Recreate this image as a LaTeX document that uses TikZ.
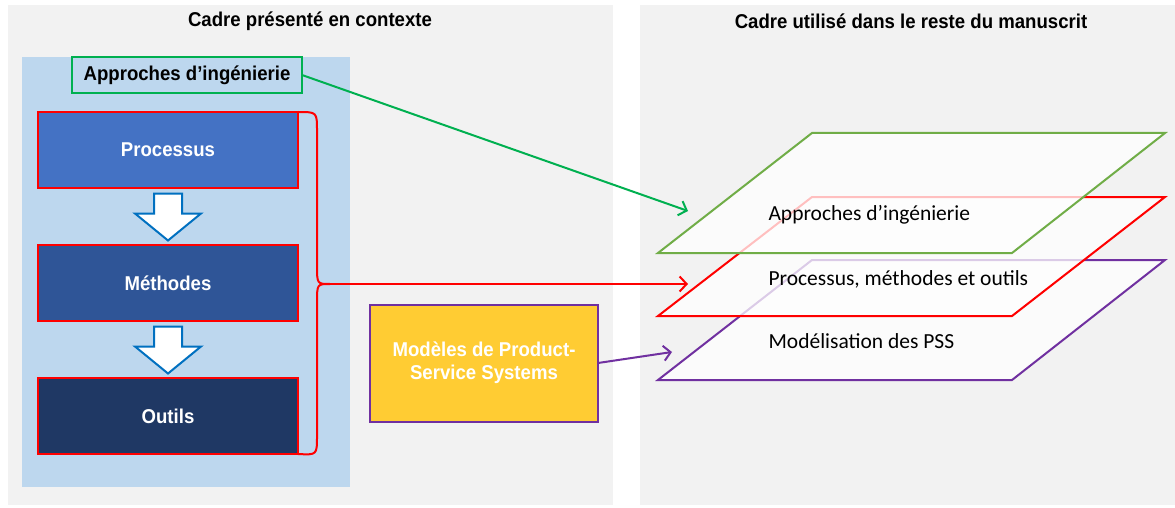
\documentclass[tikz,border=0pt]{standalone}
\usepackage{fontspec}
\setmainfont{Liberation Sans}
\newfontfamily\layerfont{Carlito}
\newfontfamily\boxfont[FakeStretch=0.93]{Liberation Sans}
\usetikzlibrary{arrows.meta}
\usetikzlibrary{positioning}
\usetikzlibrary{calc}

\definecolor{panelgray}{HTML}{F2F2F2}
\definecolor{panelblue}{HTML}{BDD7EE}
\definecolor{proccol}{HTML}{4472C4}
\definecolor{methcol}{HTML}{2F5597}
\definecolor{outcol}{HTML}{1F3864}
\definecolor{arrowblue}{HTML}{0070C0}
\definecolor{linkgreen}{HTML}{00B050}
\definecolor{planegreen}{HTML}{70AD47}
\definecolor{pssyellow}{HTML}{FFCC33}
\definecolor{psspurple}{HTML}{7030A0}

\tikzset{
  boxtext/.style={font=\boxfont\fontsize{20}{23}\selectfont\bfseries},
  stage/.style={draw=red, line width=2pt, minimum width=260pt, minimum height=76pt,
    outer sep=0pt, text=white, boxtext},
  blockarrow/.style={draw=arrowblue, fill=white, line width=2pt, line join=miter},
  link/.style={line width=2pt, -{Straight Barb[length=7pt,width=15pt]}},
  plane/.style={line width=2pt, fill=white, fill opacity=0.75},
  planetext/.style={anchor=west, font=\layerfont\fontsize{21.5}{24}\selectfont},
  heading/.style={boxtext},
}

% white block arrow pointing down, centred on a coordinate
\newcommand{\downblock}[1]{%
  \draw[blockarrow] (#1) ++(-14,-23) -- ++(28,0) -- ++(0,20) -- ++(19,0)
    -- ++(-33,27) -- ++(-33,-27) -- ++(19,0) -- cycle;}

\begin{document}
\begin{tikzpicture}[x=1pt,y=-1pt]
  \useasboundingbox[fill=white] (0,0) rectangle (1175,508);

  % panels
  \fill[panelgray] (8,5) rectangle (613,505);
  \fill[panelgray] (640,5) rectangle (1175,505);
  \fill[panelblue] (22,57) rectangle (350,487);

  \node[heading] (lefttitle) at (310,21) {Cadre présenté en contexte};
  \node[heading] (righttitle) at (911,21) {Cadre utilisé dans le reste du manuscrit};

  % left column
  \node[draw=linkgreen, line width=2pt, minimum width=230pt, minimum height=36pt,
    outer sep=0pt, boxtext] (approche) at (187,75) {Approches d’ingénierie};

  \node[stage, fill=proccol] (proc) at (168,150) {Processus};
  \node[stage, fill=methcol, below=57pt of proc] (meth) {Méthodes};
  \node[stage, fill=outcol, below=57pt of meth] (outil) {Outils};

  \path (proc.south) -- (meth.north) coordinate[midway] (a1);
  \path (meth.south) -- (outil.north) coordinate[midway] (a2);
  \downblock{a1}
  \downblock{a2}

  % brace
  \coordinate (brace) at (330,284);
  \draw[red, line width=2pt] (proc.north east) .. controls (317,112) .. (317,131)
    -- (317,265) .. controls (317,284) .. (brace)
    .. controls (317,284) .. (317,303) -- (317,436)
    .. controls (317,455) .. (outil.south east);

  \node[draw=psspurple, fill=pssyellow, line width=2pt, minimum width=228pt,
    minimum height=117pt, outer sep=0pt, align=center, text=white, boxtext]
    (pss) at (484,363) {Modèles de Product-\\Service Systems};

  % layers
  \draw[plane, draw=psspurple] (812,260) -- (1165,260) -- (1012,380) -- (658,380) -- cycle;
  \draw[plane, draw=red] (812,197) -- (1165,197) -- (1012,316) -- (658,316) -- cycle;
  \draw[plane, draw=planegreen] (812,133) -- (1165,133) -- (1012,253) -- (658,253) -- cycle;

  \node[planetext] (lapproche) at (765,215) {Approches d’ingénierie};
  \node[planetext] (lprocess) at (765,279) {Processus, méthodes et outils};
  \node[planetext] (lpss) at (765,341) {Modélisation des PSS};

  \coordinate (tgreen) at (688,211);
  \coordinate (tred) at (688,284);
  \coordinate (tpurple) at (672,352);

  \draw[link, linkgreen] (approche.east) -- (tgreen);
  \draw[link, red] (brace) -- (tred);
  \draw[link, psspurple] (pss.east) -- (tpurple);
\end{tikzpicture}
\end{document}
